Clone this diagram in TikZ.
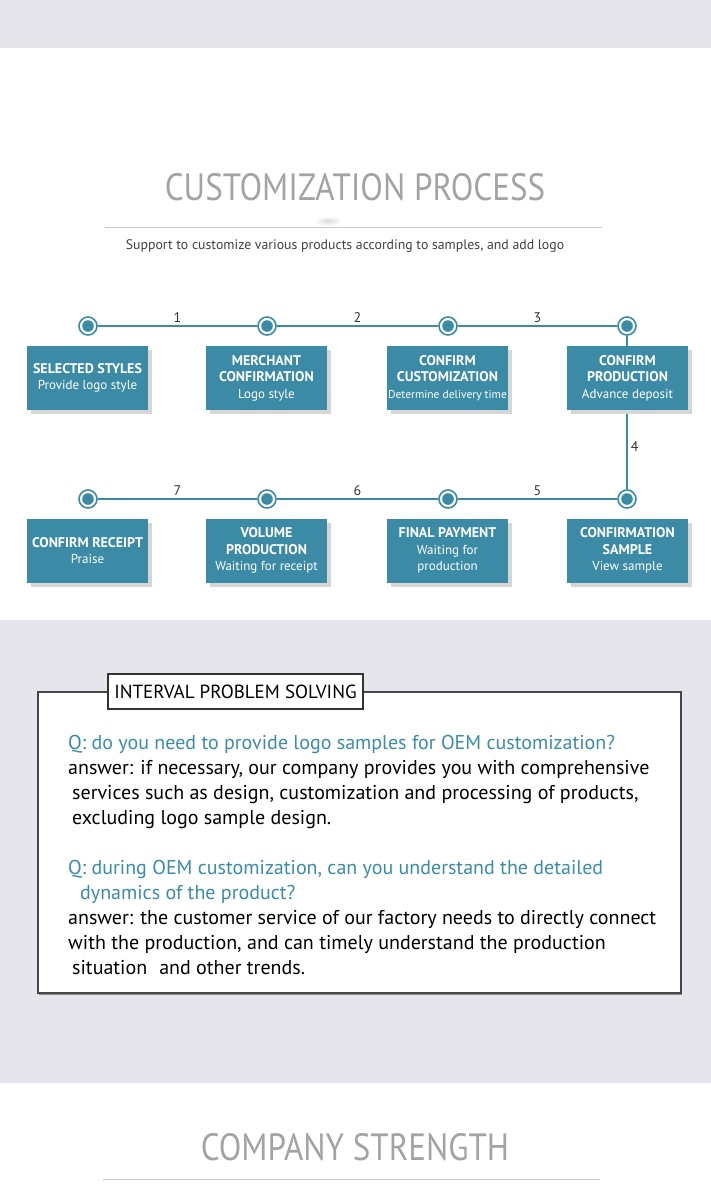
\documentclass[tikz,border=0pt]{standalone}
\usepackage{fontspec}
\setmainfont{PT Sans}
\newfontfamily\thinfont[FakeStretch=0.87]{PT Sans}
\usetikzlibrary{shadows}
\definecolor{stepblue}{HTML}{3B8BA6}
\definecolor{qblue}{HTML}{3A8DA8}
\definecolor{bandgray}{HTML}{E6E5EB}
\definecolor{titlegray}{HTML}{A3A3A3}
\newcommand{\hd}[1]{{\fontsize{14}{16}\bfseries #1}}
\begin{document}
\begin{tikzpicture}[x=1pt,y=-1pt,
  ring/.style={circle,draw=stepblue,line width=1.6pt,fill=white,minimum size=18pt,inner sep=0pt,
    path picture={\fill[stepblue] (path picture bounding box.center) circle (5.8pt);}},
  stepbox/.style={fill=stepblue,text=white,minimum width=121pt,minimum height=64pt,inner sep=1pt,align=center,
    font=\fontsize{13}{16.5}\selectfont,drop shadow={shadow xshift=4pt,shadow yshift=-4pt,fill=black!16,opacity=1}},
  link/.style={stepblue,line width=1.5pt},
  num/.style={text=black!80,font=\fontsize{14}{14}\selectfont,inner sep=3pt},
  headline/.style={text=titlegray,font=\thinfont\fontsize{38}{38}\selectfont}]
\useasboundingbox (0,0) rectangle (711,1200);
\fill[bandgray] (0,0) rectangle (711,48);
\fill[bandgray] (0,620) rectangle (711,1083);
% header
\node[headline] (title) at (355,187) {CUSTOMIZATION PROCESS};
\shade[inner color=black!14,outer color=white] (328,221) ellipse (14 and 5);
\draw[black!22,line width=1pt] (105,227) -- (602,227);
\node[text=black!75,font=\fontsize{13.8}{15}\selectfont] (sub) at (345,246) {Support to customize various products according to samples, and add logo};
% steps
\node[ring] (c1) at (88,326) {};  \node[ring] (c2) at (267,326) {};
\node[ring] (c3) at (448,326) {}; \node[ring] (c4) at (627,326) {};
\node[ring] (c5) at (627,499) {}; \node[ring] (c6) at (448,499) {};
\node[ring] (c7) at (267,499) {}; \node[ring] (c8) at (88,499) {};
\draw[link] (c1) -- node[num,above] {1} (c2);
\draw[link] (c2) -- node[num,above] {2} (c3);
\draw[link] (c3) -- node[num,above] {3} (c4);
\draw[link] (c4) -- node[num,right,pos=0.72] {4} (c5);
\draw[link] (c5) -- node[num,above] {5} (c6);
\draw[link] (c6) -- node[num,above] {6} (c7);
\draw[link] (c7) -- node[num,above] {7} (c8);
\node[stepbox] (s1) at (87.5,378) {\hd{SELECTED STYLES}\\Provide logo style};
\node[stepbox] (s2) at (266.5,378) {\hd{MERCHANT}\\\hd{CONFIRMATION}\\Logo style};
\node[stepbox] (s3) at (447.5,378) {\hd{CONFIRM}\\\hd{CUSTOMIZATION}\\{\fontsize{11.5}{16}\selectfont Determine delivery time}};
\node[stepbox] (s4) at (627.5,378) {\hd{CONFIRM}\\\hd{PRODUCTION}\\Advance deposit};
\node[stepbox] (s5) at (627.5,550.5) {\hd{CONFIRMATION}\\\hd{SAMPLE}\\View sample};
\node[stepbox] (s6) at (447.5,550.5) {\hd{FINAL PAYMENT}\\Waiting for\\production};
\node[stepbox] (s7) at (266.5,550.5) {\hd{VOLUME}\\\hd{PRODUCTION}\\Waiting for receipt};
\node[stepbox] (s8) at (87.5,550.5) {\hd{CONFIRM RECEIPT}\\Praise};
% questions
\node[draw=black!72,line width=1.5pt,fill=white,minimum width=643pt,minimum height=301pt,inner sep=0pt,
  drop shadow={shadow xshift=1pt,shadow yshift=-2pt,fill=black!45,opacity=1}] (panel) at (359.5,842.5) {};
\node[draw=black!80,line width=1.5pt,fill=white,minimum width=255pt,minimum height=35pt,inner sep=0pt,
  font=\fontsize{19}{19}\selectfont] (tab) at (235.5,691.5) {INTERVAL PROBLEM SOLVING};
\node[anchor=north west,inner sep=0pt,align=left,font=\fontsize{20}{25}\selectfont] (qa) at (68,735) {%
\textcolor{qblue}{Q: do you need to provide logo samples for OEM customization?}\\
answer: if necessary, our company provides you with comprehensive\\
\hspace*{4pt}services such as design, customization and processing of products,\\
\hspace*{4pt}excluding logo sample design.\\[25pt]
\textcolor{qblue}{Q: during OEM customization, can you understand the detailed}\\
\textcolor{qblue}{\hspace*{12pt}dynamics of the product?}\\
answer: the customer service of our factory needs to directly connect\\
with the production, and can timely understand the production\\
\hspace*{4pt}situation\hspace*{12pt}and other trends.};
% footer
\node[headline] (strength) at (355,1147) {COMPANY STRENGTH};
\draw[black!22,line width=1pt] (103,1179) -- (600,1179);
\end{tikzpicture}
\end{document}
